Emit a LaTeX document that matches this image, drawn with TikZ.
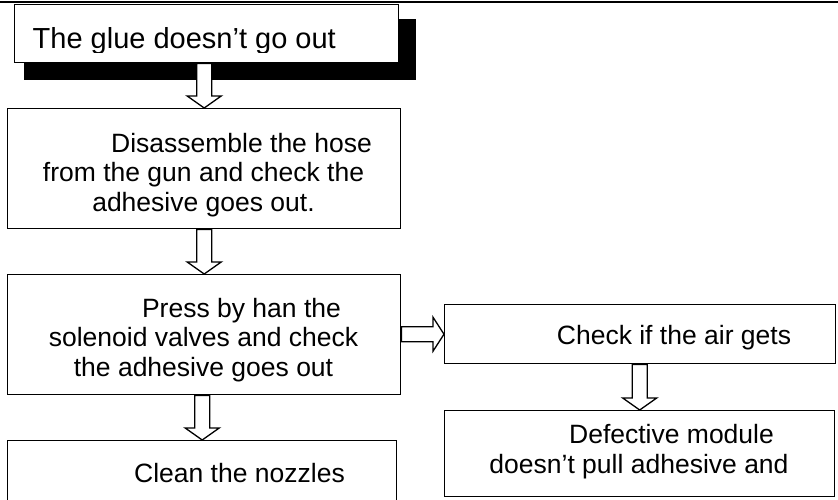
\documentclass[tikz,border=0pt]{standalone}
\usepackage{fontspec}
\setmainfont{Liberation Sans}
\usetikzlibrary{calc}
\newcommand\vblock[2]{%
  \draw[blockarrow] let \p1=(#1), \p2=(#2) in
   (\x2-7.5pt,\y1) -- (\x2+7.5pt,\y1) -- (\x2+7.5pt,\y2+12pt) -- (\x2+17pt,\y2+12pt)
   -- (\x2,\y2) -- (\x2-17pt,\y2+12pt) -- (\x2-7.5pt,\y2+12pt) -- cycle;}
\newcommand\hblock[2]{%
  \draw[blockarrow] let \p1=(#1), \p2=(#2) in
   (\x1,\y2+7.5pt) -- (\x2-11pt,\y2+7.5pt) -- (\x2-11pt,\y2+17pt) -- (\x2,\y2)
   -- (\x2-11pt,\y2-17pt) -- (\x2-11pt,\y2-7.5pt) -- (\x1,\y2-7.5pt) -- cycle;}
\begin{document}
\begin{tikzpicture}[x=1pt,y=-1pt,
  box/.style={draw,line width=1.4pt,fill=white,inner sep=0pt,anchor=north west},
  blockarrow/.style={draw,line width=1.3pt,fill=white,line join=miter},
  txt/.style={inner sep=0pt,anchor=base,font=\fontsize{26.5}{29.5}\selectfont}]
\useasboundingbox (0,0) rectangle (838,499);
\clip (0,0) rectangle (838,499);
\draw[line width=2.5pt] (0,1.8) -- (838,1.8);
% shadow of first box
\fill[black] (24,19) rectangle (416,80);
\node[box,minimum width=384pt,minimum height=58pt] (b1) at (14,4) {};
\begin{scope}
  \clip (14,4) rectangle (398,52.5);
  \node[inner sep=0pt,anchor=base west,font=\fontsize{29}{33}\selectfont] (t1) at (32.5,48.3) {The glue doesn’t go out};
\end{scope}
\node[box,minimum width=393pt,minimum height=120pt] (b2) at (7,108) {};
\node[txt] (t2) at (203.5,152) {\begin{tabular}[t]{@{}c@{}}\hspace*{76pt}Disassemble the hose\\ from the gun and check the\\ adhesive goes out.\end{tabular}};
\node[box,minimum width=393pt,minimum height=120pt] (b3) at (7,274) {};
\node[txt] (t3) at (203.5,317) {\begin{tabular}[t]{@{}c@{}}\hspace*{76pt}Press by han the\\ solenoid valves and check\\ the adhesive goes out\end{tabular}};
\node[box,minimum width=389pt,minimum height=80pt] (b4) at (7,440) {};
\node[txt] (t4) at (201.5,482.7) {\hspace*{76pt}Clean the nozzles};
\node[box,minimum width=391pt,minimum height=59pt] (b5) at (444,304) {};
\node[txt] (t5) at (639.5,344) {\hspace*{69pt}Check if the air gets};
\node[box,minimum width=390pt,minimum height=86pt] (b6) at (444,410) {};
\node[txt] (t6) at (639,443.5) {\begin{tabular}[t]{@{}c@{}}\hspace*{65pt}Defective module\\ doesn’t pull adhesive and\end{tabular}};
% block arrows
\vblock{b1.south}{b2.north}
\vblock{b2.south}{b3.north}
\vblock{b3.south}{b4.north}
\hblock{b3.east}{b5.west}
\vblock{b5.south}{b6.north}
\end{tikzpicture}
\end{document}
